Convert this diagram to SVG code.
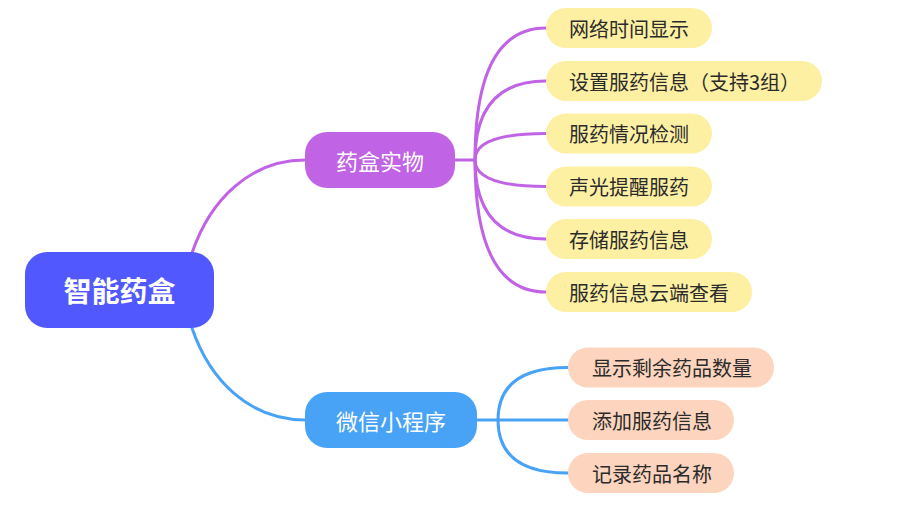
<svg xmlns="http://www.w3.org/2000/svg" width="910" height="525" viewBox="0 0 910 525">
<style>
text{font-family:"Noto Sans CJK SC","Noto Sans",sans-serif;dominant-baseline:central}
.leafY rect{fill:#FDF0A3}
.leafP rect{fill:#FDD5BE}
.lt{font-size:20px;fill:#2b2b2b}
.bt{font-size:22px;fill:#ffffff;text-anchor:middle}
.rt{font-size:28px;fill:#ffffff;font-weight:bold;text-anchor:middle}
.cp{fill:none;stroke:#C063E5;stroke-width:3;stroke-linecap:round}
.cb{fill:none;stroke:#48A2F6;stroke-width:3;stroke-linecap:round}
</style>
<rect width="910" height="525" fill="#ffffff"/>
<g id="connectors">
<path class="cp" d="M192,253 C210,200 250,160 305,160"/>
<path class="cb" d="M192,328 C210,381 250,420 305,420"/>
<path class="cp" d="M455,160 H475"/>
<path class="cp" d="M475,160 Q475,28 546,28"/>
<path class="cp" d="M475,160 Q475,81 546,81"/>
<path class="cp" d="M475,160 Q475,133.5 546,133.5"/>
<path class="cp" d="M475,160 Q475,186.5 546,186.5"/>
<path class="cp" d="M475,160 Q475,239 546,239"/>
<path class="cp" d="M475,160 Q475,292 546,292"/>
<path class="cb" d="M477,420 H568"/>
<path class="cb" d="M498,420 Q498,367.5 568,367.5"/>
<path class="cb" d="M498,420 Q498,473 568,473"/>
</g>
<g id="root"><rect x="25" y="252" width="189" height="76" rx="22" fill="#5159FE"/><text class="rt" x="119.5" y="290">智能药盒</text></g>
<g id="b1"><rect x="305" y="132" width="150" height="56" rx="22" fill="#C063E5"/><text class="bt" x="380" y="160">药盒实物</text></g>
<g id="b2"><rect x="305" y="392" width="172" height="56" rx="22" fill="#48A2F6"/><text class="bt" x="391" y="420">微信小程序</text></g>
<g id="l1" class="leafY"><rect x="546" y="8" width="166" height="40" rx="20"/><text class="lt" x="569" y="28">网络时间显示</text></g>
<g id="l2" class="leafY"><rect x="546" y="61" width="276" height="40" rx="20"/><text class="lt" x="569" y="81">设置服药信息（支持3组）</text></g>
<g id="l3" class="leafY"><rect x="546" y="113.5" width="166" height="40" rx="20"/><text class="lt" x="569" y="133.5">服药情况检测</text></g>
<g id="l4" class="leafY"><rect x="546" y="166.5" width="166" height="40" rx="20"/><text class="lt" x="569" y="186.5">声光提醒服药</text></g>
<g id="l5" class="leafY"><rect x="546" y="219" width="166" height="40" rx="20"/><text class="lt" x="569" y="239">存储服药信息</text></g>
<g id="l6" class="leafY"><rect x="546" y="272" width="206" height="40" rx="20"/><text class="lt" x="569" y="292">服药信息云端查看</text></g>
<g id="p1" class="leafP"><rect x="568" y="347.5" width="206" height="40" rx="20"/><text class="lt" x="592" y="367.5">显示剩余药品数量</text></g>
<g id="p2" class="leafP"><rect x="568" y="400" width="166" height="40" rx="20"/><text class="lt" x="592" y="420">添加服药信息</text></g>
<g id="p3" class="leafP"><rect x="568" y="453" width="166" height="40" rx="20"/><text class="lt" x="592" y="473">记录药品名称</text></g>
</svg>
